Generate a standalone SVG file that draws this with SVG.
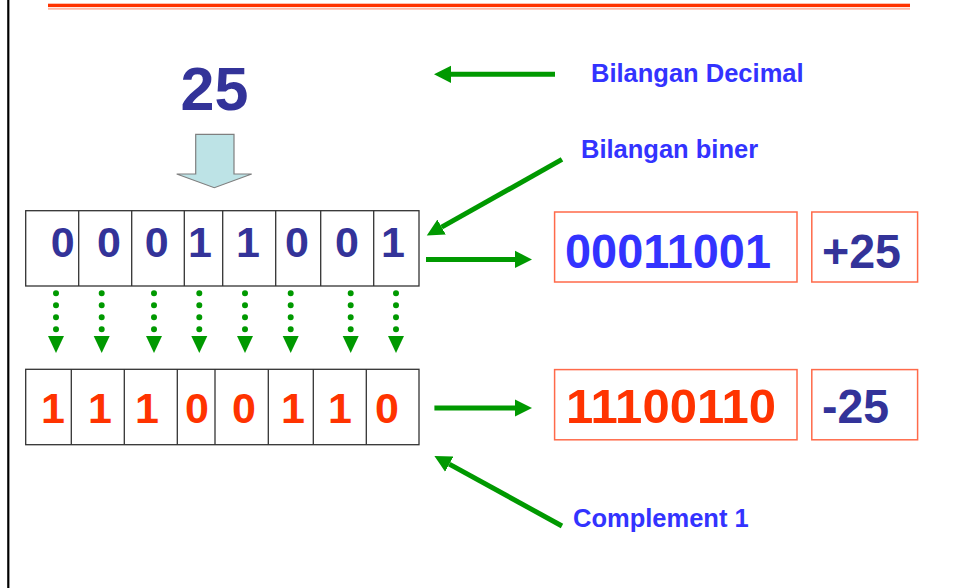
<svg xmlns="http://www.w3.org/2000/svg" width="957" height="588" viewBox="0 0 957 588">
<style>
.cell{fill:#fff;stroke:#333;stroke-width:1.3}
.rbox{fill:#fff;stroke:#ff6a4a;stroke-width:1.5}
.dtop{font-family:"Liberation Sans",Arial,sans-serif;font-weight:bold;font-size:43px;fill:#333399;text-anchor:middle}
.dbot{font-family:"Liberation Sans",Arial,sans-serif;font-weight:bold;font-size:43px;fill:#ff3300;text-anchor:middle}
.big{font-family:"Liberation Sans",Arial,sans-serif;font-weight:bold;font-size:49px}
.lbl{font-family:"Liberation Sans",Arial,sans-serif;font-weight:bold;font-size:25.5px;fill:#3333ff}
.arr{stroke:#009900;stroke-width:5;fill:none}
.dots{stroke:#009900;stroke-width:6;stroke-linecap:round;stroke-dasharray:0 12;fill:none}
.tri{fill:#009900}
</style>
<defs>
<marker id="ah" markerUnits="userSpaceOnUse" markerWidth="18" markerHeight="18" viewBox="0 -9 18 18" refX="0" refY="0" orient="auto">
<path d="M0,-8.6 L17,0 L0,8.6 Z" fill="#009900"/>
</marker>
</defs>
<rect width="957" height="588" fill="#fff"/>
<line x1="8.3" y1="0" x2="8.3" y2="588" stroke="#000" stroke-width="2.2"/>
<rect x="48" y="3.7" width="862" height="3.4" fill="#ff3300"/>
<rect x="48" y="8.3" width="862" height="1.2" fill="#ff9a80"/>

<g id="decimal">
<text x="214.5" y="110" font-family="Liberation Sans, Arial, sans-serif" font-weight="bold" font-size="61" fill="#333399" text-anchor="middle">25</text>
</g>
<g id="blockarrow">
<polygon points="195.7,134.3 234,134.3 234,174 251.7,174 214.3,187.7 176.7,174 195.7,174" fill="#bde3e6" stroke="#7f7f7f" stroke-width="1.2"/>
</g>

<g id="row-top">
<rect class="cell" x="25.7" y="210.7" width="393.3" height="75.3"/>
<g stroke="#333" stroke-width="1.3">
<line x1="78.7" y1="210.7" x2="78.7" y2="286"/>
<line x1="131.7" y1="210.7" x2="131.7" y2="286"/>
<line x1="184.3" y1="210.7" x2="184.3" y2="286"/>
<line x1="222.7" y1="210.7" x2="222.7" y2="286"/>
<line x1="275.7" y1="210.7" x2="275.7" y2="286"/>
<line x1="320.7" y1="210.7" x2="320.7" y2="286"/>
<line x1="373.7" y1="210.7" x2="373.7" y2="286"/>
</g>
<text class="dtop" x="62.7" y="257.3">0</text>
<text class="dtop" x="109" y="257.3">0</text>
<text class="dtop" x="156.7" y="257.3">0</text>
<text class="dtop" x="200" y="257.3">1</text>
<text class="dtop" x="248" y="257.3">1</text>
<text class="dtop" x="297" y="257.3">0</text>
<text class="dtop" x="347" y="257.3">0</text>
<text class="dtop" x="393" y="257.3">1</text>
</g>

<g id="row-bottom">
<rect class="cell" x="25.7" y="369.3" width="393.3" height="75.4"/>
<g stroke="#333" stroke-width="1.3">
<line x1="71.3" y1="369.3" x2="71.3" y2="444.7"/>
<line x1="124.3" y1="369.3" x2="124.3" y2="444.7"/>
<line x1="177.3" y1="369.3" x2="177.3" y2="444.7"/>
<line x1="215" y1="369.3" x2="215" y2="444.7"/>
<line x1="268.3" y1="369.3" x2="268.3" y2="444.7"/>
<line x1="313.3" y1="369.3" x2="313.3" y2="444.7"/>
<line x1="366.3" y1="369.3" x2="366.3" y2="444.7"/>
</g>
<text class="dbot" x="53" y="423.3">1</text>
<text class="dbot" x="100" y="423.3">1</text>
<text class="dbot" x="147" y="423.3">1</text>
<text class="dbot" x="197" y="423.3">0</text>
<text class="dbot" x="244" y="423.3">0</text>
<text class="dbot" x="293" y="423.3">1</text>
<text class="dbot" x="340" y="423.3">1</text>
<text class="dbot" x="387" y="423.3">0</text>
</g>

<g id="bin-positive">
<rect class="rbox" x="554.6" y="212" width="242.4" height="70"/>
<text class="big" x="565" y="268" fill="#3333ff" textLength="206" lengthAdjust="spacingAndGlyphs">00011001</text>
</g>
<g id="val-positive">
<rect class="rbox" x="811.8" y="212" width="105.8" height="70"/>
<text class="big" x="822" y="268" fill="#333399" textLength="79" lengthAdjust="spacingAndGlyphs">+25</text>
</g>
<g id="bin-negative">
<rect class="rbox" x="554.6" y="369.6" width="242.4" height="70.2"/>
<text class="big" x="566" y="423.4" fill="#ff3300" textLength="210" lengthAdjust="spacingAndGlyphs">11100110</text>
</g>
<g id="val-negative">
<rect class="rbox" x="811.8" y="369.6" width="105.8" height="70.2"/>
<text class="big" x="822" y="423.4" fill="#333399" textLength="67" lengthAdjust="spacingAndGlyphs">-25</text>
</g>

<g id="label-decimal"><text class="lbl" x="591" y="82.3">Bilangan Decimal</text></g>
<g id="label-biner"><text class="lbl" x="581" y="157.5">Bilangan biner</text></g>
<g id="label-complement"><text class="lbl" x="573" y="526.7">Complement 1</text></g>

<g id="connectors">
<line class="arr" x1="555" y1="74.3" x2="451" y2="74.3" marker-end="url(#ah)"/>
<line class="arr" x1="562" y1="159.4" x2="441.6" y2="227.1" marker-end="url(#ah)"/>
<line class="arr" x1="426" y1="259.4" x2="515" y2="259.4" marker-end="url(#ah)"/>
<line class="arr" x1="434.4" y1="408" x2="515" y2="408" marker-end="url(#ah)"/>
<line class="arr" x1="562" y1="526" x2="449.3" y2="464.1" marker-end="url(#ah)"/>
<g>
<line class="dots" x1="56" y1="293.3" x2="56" y2="330"/><polygon class="tri" points="48,336 64,336 56,353"/>
<line class="dots" x1="101.7" y1="293.3" x2="101.7" y2="330"/><polygon class="tri" points="93.7,336 109.7,336 101.7,353"/>
<line class="dots" x1="154" y1="293.3" x2="154" y2="330"/><polygon class="tri" points="146,336 162,336 154,353"/>
<line class="dots" x1="199.3" y1="293.3" x2="199.3" y2="330"/><polygon class="tri" points="191.3,336 207.3,336 199.3,353"/>
<line class="dots" x1="245" y1="293.3" x2="245" y2="330"/><polygon class="tri" points="237,336 253,336 245,353"/>
<line class="dots" x1="290.7" y1="293.3" x2="290.7" y2="330"/><polygon class="tri" points="282.7,336 298.7,336 290.7,353"/>
<line class="dots" x1="350.7" y1="293.3" x2="350.7" y2="330"/><polygon class="tri" points="342.7,336 358.7,336 350.7,353"/>
<line class="dots" x1="396" y1="293.3" x2="396" y2="330"/><polygon class="tri" points="388,336 404,336 396,353"/>
</g>
</g>
</svg>
